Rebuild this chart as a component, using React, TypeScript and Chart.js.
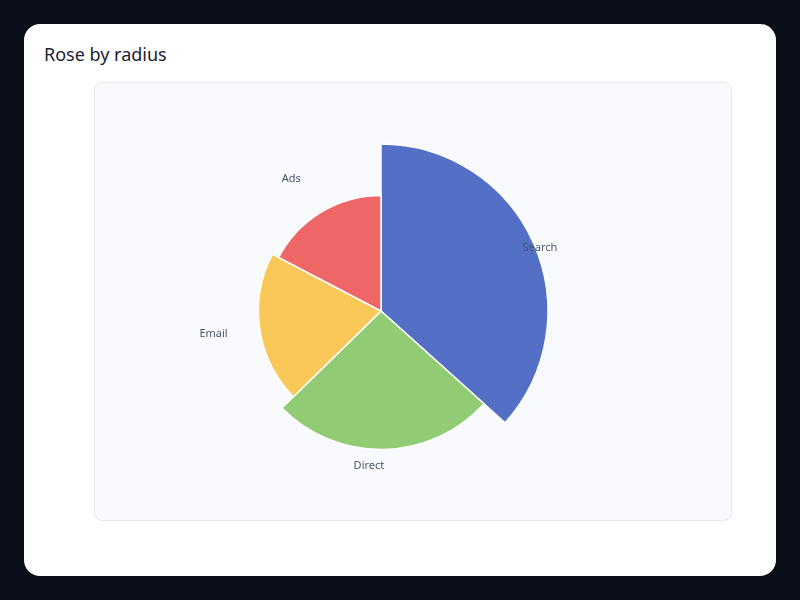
import { useEffect, useRef } from 'react';
import { Chart, registerables } from 'chart.js';

Chart.register(...registerables);

// Traffic channels, slice angle and radius both follow the value
const channels = ['Search', 'Direct', 'Email', 'Ads'];
const visits = [55, 39, 30, 26];
const sliceColors = ['#5470c6', '#91cc75', '#fac858', '#ee6666'];

const total = visits.reduce((a, b) => a + b, 0);

// Draws the channel name just outside each slice, along its middle angle.
const sliceLabels = {
  id: 'sliceLabels',
  afterDatasetsDraw(chart: Chart) {
    const { ctx } = chart;
    const arcs = chart.getDatasetMeta(0).data;
    ctx.save();
    ctx.font = '11px "Noto Sans", sans-serif';
    ctx.fillStyle = '#4b5565';
    ctx.textBaseline = 'middle';
    arcs.forEach((arc, i) => {
      const { x, y, startAngle, endAngle } = arc.getProps(['x', 'y', 'startAngle', 'endAngle'], true) as any;
      const mid = (startAngle + endAngle) / 2;
      const nx = Math.cos(mid);
      const ny = Math.sin(mid);
      ctx.textAlign = nx > 0.05 ? 'left' : 'right';
      ctx.fillText(channels[i], x + nx * 155, y + ny * 155);
    });
    ctx.restore();
  },
};

function RoseChart(): JSX.Element {
  const canvasRef = useRef<HTMLCanvasElement>(null);

  useEffect(() => {
    if (!canvasRef.current) return;
    const chart = new Chart(canvasRef.current, {
      type: 'polarArea',
      data: {
        labels: channels,
        datasets: [
          {
            data: visits,
            backgroundColor: sliceColors,
            borderColor: '#ffffff',
            borderWidth: 1.5,
            angle: (c: any) => (visits[c.dataIndex] / total) * 360,
          } as any,
        ],
      },
      options: {
        responsive: true,
        maintainAspectRatio: false,
        animation: false,
        layout: { padding: { left: 119, top: 61, right: 183, bottom: 42 } },
        plugins: {
          legend: { display: false },
        },
        scales: {
          r: { display: false, min: -39, max: 55 },
        },
      },
      plugins: [sliceLabels],
    });
    return () => chart.destroy();
  }, []);

  return (
    <div style={{ position: 'relative', width: '100%', height: '100%' }}>
      <canvas ref={canvasRef} role="img" aria-label="Rose chart of traffic by channel" />
    </div>
  );
}

export default function App(): JSX.Element {
  return (
    <div style={{ position: 'fixed', inset: 0, background: '#0b0f1a' }}>
      <div
        style={{
          position: 'absolute',
          left: 24,
          top: 24,
          width: 752,
          height: 552,
          background: '#ffffff',
          borderRadius: 16,
        }}
      >
        <div
          style={{
            position: 'absolute',
            left: 20,
            top: 20,
            lineHeight: '20px',
            fontSize: 18,
            fontFamily: '"Noto Sans", sans-serif',
            color: '#1a2233',
          }}
        >
          Rose by radius
        </div>
        <div
          style={{
            position: 'absolute',
            left: 70,
            top: 58,
            width: 636,
            height: 437,
            border: '1px solid #e4e9f0',
            borderRadius: 8,
            background: '#f8fafd',
          }}
        >
          <RoseChart />
        </div>
      </div>
    </div>
  );
}
